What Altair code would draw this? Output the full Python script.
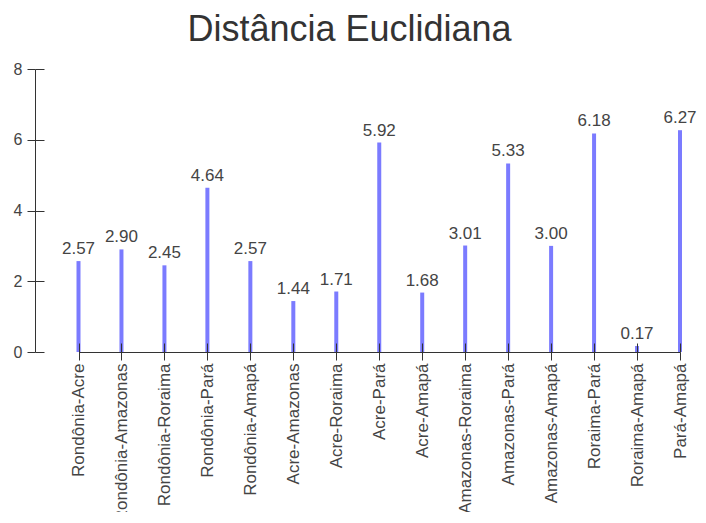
import altair as alt
import pandas as pd

pares = ["Rondônia-Acre", "Rondônia-Amazonas", "Rondônia-Roraima", "Rondônia-Pará",
         "Rondônia-Amapá", "Acre-Amazonas", "Acre-Roraima", "Acre-Pará", "Acre-Amapá",
         "Amazonas-Roraima", "Amazonas-Pará", "Amazonas-Amapá", "Roraima-Pará",
         "Roraima-Amapá", "Pará-Amapá"]
distancias = [2.57, 2.90, 2.45, 4.64, 2.57, 1.44, 1.71, 5.92, 1.68, 3.01, 5.33, 3.00, 6.18, 0.17, 6.27]
y_ticks = [0, 2, 4, 6, 8]

df = pd.DataFrame({"par": pares, "dist": distancias})

FONT = "Liberation Sans"
PLOT_W = 645
xscale = alt.Scale(type="point", domain=pares, range=[43.5, PLOT_W], padding=0)
yscale = alt.Scale(domain=[0, 8], nice=False)

base = alt.Chart(df)

bars = base.mark_rule(strokeWidth=4, color="#7b7bff").encode(
    x=alt.X("par:N", sort=None, scale=xscale,
            axis=alt.Axis(orient="bottom", title=None, labelAngle=-90, labelFontSize=17,
                          labelFont=FONT, labelColor="#444", tickSize=8, tickColor="#333",
                          domainColor="#333", labelPadding=3, grid=False, zindex=1)),
    y=alt.Y("dist:Q", scale=yscale,
            axis=alt.Axis(orient="left", title=None, values=y_ticks, labelFontSize=16,
                          labelFont=FONT, labelColor="#444", tickSize=8, tickColor="#333",
                          domainColor="#333", labelPadding=5, grid=False, zindex=1)),
    y2=alt.datum(0),
)

ticks = base.mark_rule(opacity=0).encode(
    x=alt.X("par:N", sort=None, scale=xscale,
            axis=alt.Axis(orient="bottom", title=None, labels=False, domain=False,
                          offset=-9, tickSize=9, tickColor="#333", grid=False, zindex=1)),
    y=alt.Y("dist:Q", scale=yscale,
            axis=alt.Axis(orient="left", title=None, labels=False, domain=False,
                          values=y_ticks, offset=-9, tickSize=9, tickColor="#333",
                          grid=False, zindex=1)),
)

labels = base.mark_text(fontSize=17, font=FONT, color="#444", baseline="alphabetic", dy=-7).encode(
    x=alt.X("par:N", sort=None, scale=xscale, axis=None),
    y=alt.Y("dist:Q", scale=yscale, axis=None),
    text=alt.Text("dist:Q", format=".2f"),
)

chart = alt.layer(bars, ticks, labels).resolve_axis(
    x="independent", y="independent"
).properties(
    width=PLOT_W,
    height=283,
    title=alt.TitleParams("Distância Euclidiana", fontSize=36, font=FONT, color="#333",
                          fontWeight="normal", anchor="middle", dx=-8, offset=12),
    autosize=alt.AutoSizeParams(type="none"),
    padding={"left": 27, "top": 61, "right": 690 - 27 - PLOT_W, "bottom": 160},
).configure_view(stroke=None)

chart.save("out.html", embed_options={"renderer": "svg", "actions": False})
